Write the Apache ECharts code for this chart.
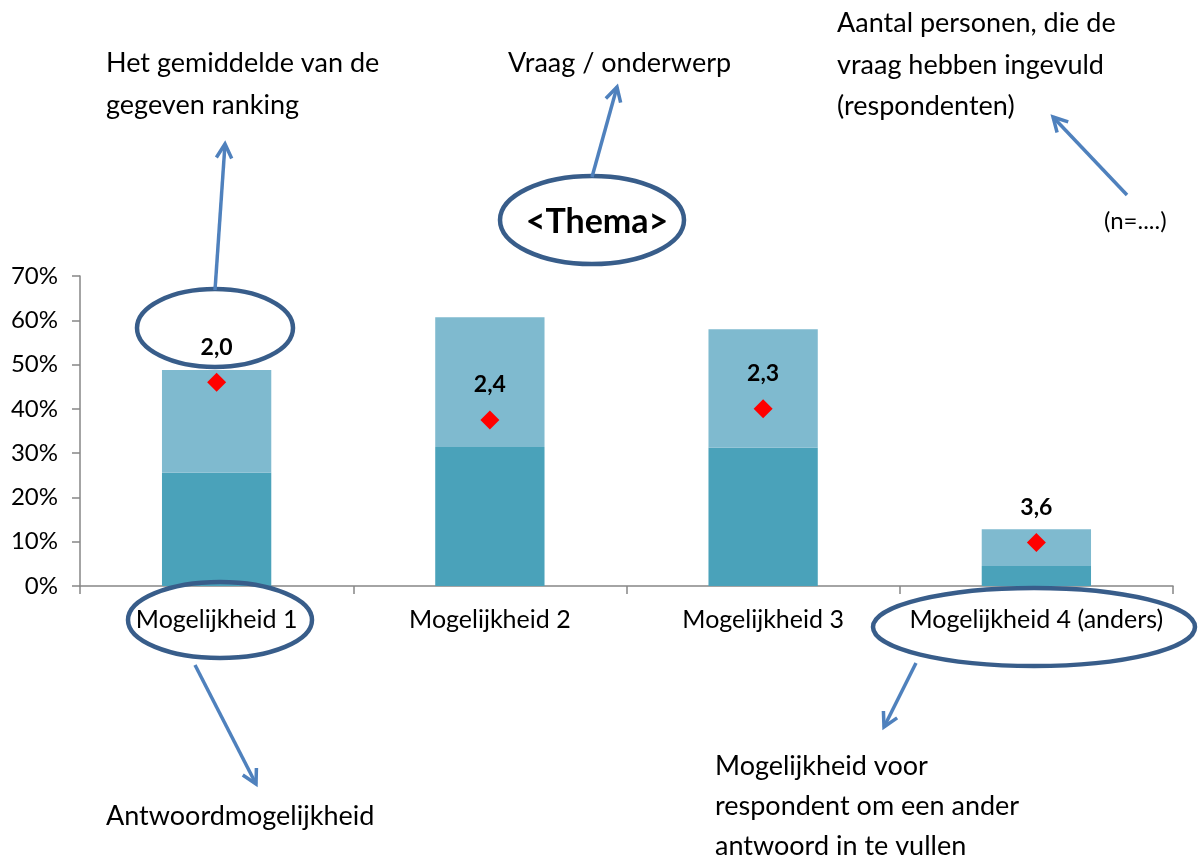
<!DOCTYPE html>
<html>
<head>
<meta charset="utf-8">
<script src="https://cdn.jsdelivr.net/npm/echarts@6/dist/echarts.min.js"></script>
<style>
html,body{margin:0;padding:0;background:#fff;}
#chart{width:1198px;height:857px;}
</style>
</head>
<body>
<div id="chart"></div>
<script>
var categories = ['Mogelijkheid 1', 'Mogelijkheid 2', 'Mogelijkheid 3', 'Mogelijkheid 4 (anders)'];
var darkValues = [0.256, 0.314, 0.312, 0.045];
var lightValues = [0.232, 0.293, 0.268, 0.083];
var markerValues = [0.460, 0.375, 0.400, 0.098];
var rankingValues = [2.0, 2.4, 2.3, 3.6];
var yTicks = [0, 0.1, 0.2, 0.3, 0.4, 0.5, 0.6, 0.7];

var FONT = 'Lato, "Open Sans", sans-serif';
var ARROW = '#4F81BD';
var RING = '#385D8A';

function arrow(x1, y1, x2, y2) {
  var ang = Math.atan2(y2 - y1, x2 - x1);
  var L = 16, a = 0.5;
  var p1 = [x2 - L * Math.cos(ang - a), y2 - L * Math.sin(ang - a)];
  var p2 = [x2 - L * Math.cos(ang + a), y2 - L * Math.sin(ang + a)];
  return [
    { type: 'line', z: 100, shape: { x1: x1, y1: y1, x2: x2, y2: y2 }, style: { stroke: ARROW, lineWidth: 3.5 } },
    { type: 'polyline', z: 100, shape: { points: [p1, [x2, y2], p2] }, style: { stroke: ARROW, lineWidth: 3.5, fill: null, lineJoin: 'miter' } }
  ];
}
function ring(cx, cy, rx, ry) {
  return { type: 'ellipse', z: 100, shape: { cx: cx, cy: cy, rx: rx, ry: ry }, style: { stroke: RING, lineWidth: 4.5, fill: null } };
}
function txt(x, y, s, size, weight, align) {
  return { type: 'text', z: 100, x: x, y: y, style: { text: s, fill: '#000', fontSize: size, fontFamily: FONT, fontWeight: weight || 'normal', textAlign: align || 'left', textVerticalAlign: 'middle' } };
}

var graphics = [].concat(
  ring(215, 328, 78, 39),
  ring(220, 620, 92, 38),
  ring(592, 220, 92, 44),
  ring(1034, 627, 161, 39),
  arrow(215, 290, 225, 144),
  arrow(592, 177, 617, 87),
  arrow(1127, 195, 1053, 117),
  arrow(195, 665, 256, 784),
  arrow(916, 663, 884, 727),
  [
    txt(106, 63, 'Het gemiddelde van de', 27),
    txt(106, 105, 'gegeven ranking', 27),
    txt(508, 63, 'Vraag / onderwerp', 27),
    txt(837, 23, 'Aantal personen, die de', 27),
    txt(837, 65, 'vraag hebben ingevuld', 27),
    txt(837, 106, '(respondenten)', 27),
    txt(1104, 221, '(n=....)', 24),
    txt(597, 222, '<Thema>', 34, 'bold', 'center'),
    txt(106, 816, 'Antwoordmogelijkheid', 27),
    txt(715, 766, 'Mogelijkheid voor', 27),
    txt(715, 806, 'respondent om een ander', 27),
    txt(715, 846, 'antwoord in te vullen', 27)
  ]
);

var chart = echarts.init(document.getElementById('chart'));
chart.setOption({
  animation: false,
  backgroundColor: '#fff',
  grid: { left: 80, right: 25, top: 276, bottom: 271, containLabel: false },
  xAxis: {
    type: 'category',
    data: categories,
    axisLine: { show: true, lineStyle: { color: '#868686', width: 1.5 } },
    axisTick: { show: true, length: 8, lineStyle: { color: '#868686', width: 1.5 } },
    axisLabel: { color: '#000', fontSize: 25, fontFamily: FONT, margin: 21, interval: 0 }
  },
  yAxis: {
    type: 'value',
    min: yTicks[0],
    max: yTicks[yTicks.length - 1],
    interval: 0.1,
    axisLine: { show: true, lineStyle: { color: '#868686', width: 1.5 } },
    axisTick: { show: true, length: 8, lineStyle: { color: '#868686', width: 1.5 } },
    splitLine: { show: false },
    axisLabel: {
      color: '#000', fontSize: 24, fontFamily: FONT, margin: 22,
      formatter: function (v) { return Math.round(v * 100) + '%'; }
    }
  },
  series: [
    {
      type: 'bar', stack: 'total', data: darkValues, barWidth: '40%',
      itemStyle: { color: '#4AA2BA' }
    },
    {
      type: 'bar', stack: 'total', data: lightValues, barWidth: '40%',
      itemStyle: { color: '#7FBACF' }
    },
    {
      type: 'scatter', data: markerValues, symbol: 'diamond', symbolSize: 19, z: 10,
      itemStyle: { color: '#FF0000', opacity: 1 },
      label: {
        show: true, position: 'top', distance: 14, opacity: 1,
        color: '#000', fontSize: 23, fontWeight: 'bold', fontFamily: FONT,
        formatter: function (p) { return rankingValues[p.dataIndex].toFixed(1).replace('.', ','); }
      }
    }
  ],
  graphic: graphics
});
</script>
</body>
</html>
